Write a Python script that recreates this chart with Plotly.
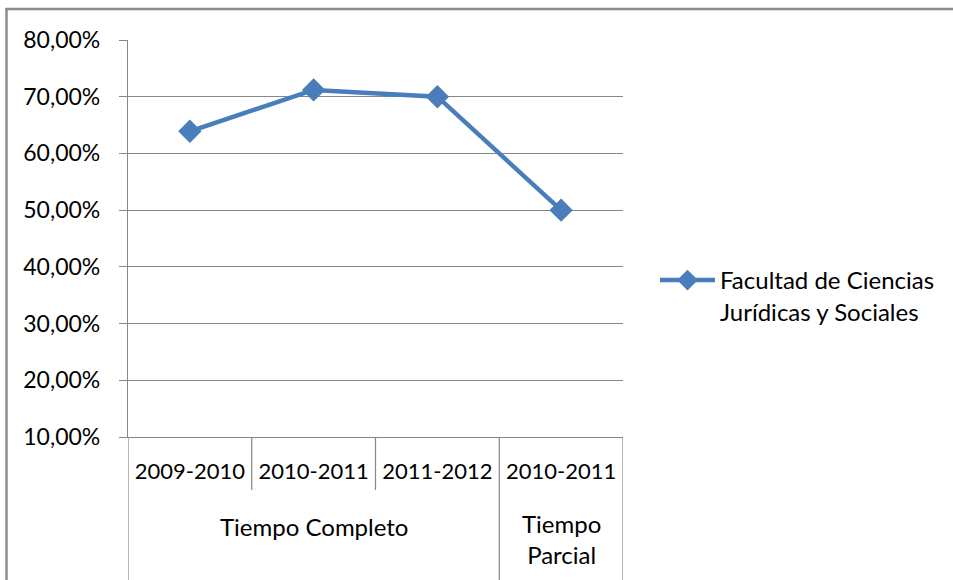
import plotly.graph_objects as go

# ---- data ----
groups = ["Tiempo Completo", "Tiempo Completo", "Tiempo Completo", "Tiempo Parcial"]
periods = ["2009-2010", "2010-2011", "2011-2012", "2010-2011"]
values = [0.639, 0.712, 0.70, 0.50]
series_name = "Facultad de Ciencias<br>Jurídicas y Sociales"

W, H = 953, 580
ML, MR, MT, MB = 128, 330, 40, 143
PW, PH = W - ML - MR, H - MT - MB

def py(pix):  # pixel row -> paper y
    return (H - MB - pix) / PH

def px(pix):  # pixel col -> paper x
    return (pix - ML) / PW

FONT = "Lato, Calibri, Carlito, sans-serif"
GRID = "#868686"
BLUE = "#4A7EBB"

idx = list(range(len(periods)))

fig = go.Figure()
fig.add_trace(go.Scatter(
    x=idx, y=values, mode="lines+markers", name=series_name,
    line=dict(color=BLUE, width=4.5),
    marker=dict(symbol="diamond", size=18, color=BLUE),
    hoverinfo="skip",
))

shapes = []
n = len(periods)
for b in range(n + 1):
    xb = b - 0.5
    outer = b == 0 or b == n or groups[b - 1] != groups[b]
    shapes.append(dict(type="line", xref="x", yref="paper",
                       x0=xb, x1=xb, y0=0, y1=py(H if outer else 490),
                       line=dict(color=GRID, width=1.2)))
# chart frame (only left and top edges visible in the picture)
shapes.append(dict(type="line", xref="paper", yref="paper",
                   x0=px(6.5), x1=px(6.5), y0=py(8), y1=py(H),
                   line=dict(color="#8c8c8c", width=2.5)))
shapes.append(dict(type="line", xref="paper", yref="paper",
                   x0=px(5.5), x1=px(W), y0=py(9), y1=py(9),
                   line=dict(color="#8c8c8c", width=2.5)))

annotations = []
start = 0
for i in range(1, n + 1):
    if i == n or groups[i] != groups[start]:
        label = groups[start]
        span = i - start
        wrapped = span == 1
        if wrapped:
            label = label.replace(" ", "<br>")
        annotations.append(dict(
            xref="x", yref="paper", x=(start + i - 1) / 2,
            y=py(539) if wrapped else py(526), yanchor="middle",
            text=label, showarrow=False,
            font=dict(family=FONT, size=24, color="#000000")))
        start = i

fig.update_layout(
    width=W, height=H, autosize=False,
    margin=dict(l=ML, r=MR, t=MT, b=MB, autoexpand=False),
    paper_bgcolor="white", plot_bgcolor="white",
    font=dict(family=FONT, size=22, color="#000000"),
    separators=",.",
    showlegend=True,
    legend=dict(x=px(655), y=py(258), xanchor="left", yanchor="top",
                valign="top", itemwidth=55,
                font=dict(family=FONT, size=24, color="#000000"),
                bgcolor="rgba(0,0,0,0)"),
    shapes=shapes,
    annotations=annotations,
    hovermode=False,
)
fig.update_xaxes(
    range=[-0.5, n - 0.5], tickmode="array", tickvals=idx, ticktext=periods,
    showgrid=False, zeroline=False, showline=True, linecolor=GRID, linewidth=1.2,
    ticks="", ticklabelstandoff=14,
    tickfont=dict(family=FONT, size=22, color="#000000"),
)
fig.update_yaxes(
    range=[0.10, 0.80], dtick=0.10, tick0=0.10, tickformat=".2%",
    showgrid=True, gridcolor=GRID, gridwidth=1.2, zeroline=False,
    showline=True, linecolor=GRID, linewidth=1.2,
    ticks="outside", ticklen=8, tickcolor=GRID, tickwidth=1.2,
    ticklabelstandoff=14,
    tickfont=dict(family=FONT, size=23, color="#000000"),
)

fig.write_html(
    "out.html",
    config={"displayModeBar": False, "responsive": False},
    post_script="document.body.style.margin='0';document.body.style.overflow='hidden';",
)
